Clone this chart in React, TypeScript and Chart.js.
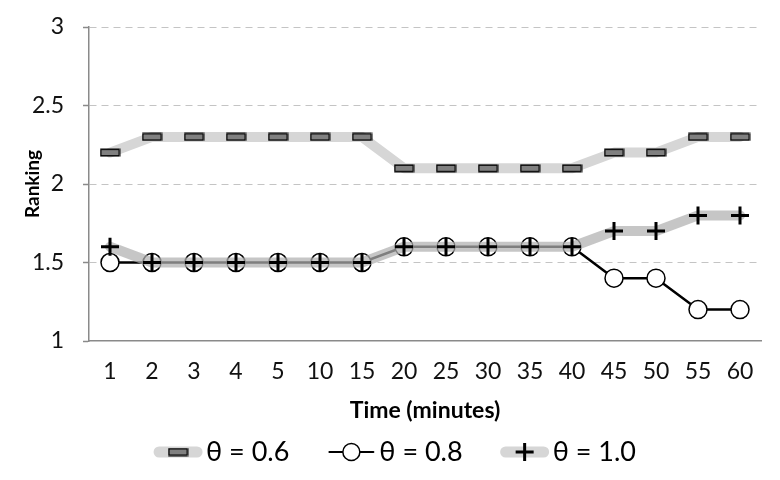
import React, { useEffect, useRef } from "react";
import { Chart, registerables } from "chart.js";

Chart.register(...registerables);

const categories = ["1", "2", "3", "4", "5", "10", "15", "20", "25", "30", "35", "40", "45", "50", "55", "60"];
const theta06 = [2.2, 2.3, 2.3, 2.3, 2.3, 2.3, 2.3, 2.1, 2.1, 2.1, 2.1, 2.1, 2.2, 2.2, 2.3, 2.3];
const theta08 = [1.5, 1.5, 1.5, 1.5, 1.5, 1.5, 1.5, 1.6, 1.6, 1.6, 1.6, 1.6, 1.4, 1.4, 1.2, 1.2];
const theta10 = [1.6, 1.5, 1.5, 1.5, 1.5, 1.5, 1.5, 1.6, 1.6, 1.6, 1.6, 1.6, 1.7, 1.7, 1.8, 1.8];
const seriesLabels = ["θ = 0.6", "θ = 0.8", "θ = 1.0"];
const yMin = 1;
const yMax = 3;
const yStep = 0.5;
const xTitle = "Time (minutes)";
const yTitle = "Ranking";

const FONT = "Lato, 'DejaVu Sans', sans-serif";
const BAND = "#d6d6d6";
const BAND_ALPHA = "rgba(176,176,176,0.72)";
const AXIS = "#8a8a8a";

function makeRectMarker(): HTMLCanvasElement {
  const c = document.createElement("canvas");
  c.width = 21;
  c.height = 9;
  const g = c.getContext("2d")!;
  g.fillStyle = "#808080";
  g.fillRect(1, 1, 19, 7);
  g.strokeStyle = "#000";
  g.lineWidth = 1.5;
  g.strokeRect(1.25, 1.25, 18.5, 6.5);
  return c;
}

const legendPlugin = {
  id: "customLegend",
  afterDraw(chart: any, _args: any, opts: any) {
    const ctx: CanvasRenderingContext2D = chart.ctx;
    const marker: HTMLCanvasElement = opts.marker;
    const y = 452;
    const sampleW = 48;
    const gapText = 4;
    const gapItem = 38;
    ctx.save();
    ctx.font = "27px " + FONT;
    const widths = seriesLabels.map((l) => ctx.measureText(l).width);
    const total = widths.reduce((a, b) => a + b, 0) + seriesLabels.length * (sampleW + gapText) + gapItem * (seriesLabels.length - 1);
    let x = 395 - total / 2;
    seriesLabels.forEach((label, i) => {
      const cx = x + sampleW / 2;
      ctx.lineCap = "round";
      if (i === 1) {
        ctx.strokeStyle = "#000";
        ctx.lineWidth = 2;
        ctx.beginPath();
        ctx.moveTo(x + 2, y);
        ctx.lineTo(x + sampleW - 2, y);
        ctx.stroke();
        ctx.beginPath();
        ctx.arc(cx, y, 8.5, 0, Math.PI * 2);
        ctx.fillStyle = "#fff";
        ctx.fill();
        ctx.lineWidth = 1.5;
        ctx.stroke();
      } else {
        ctx.strokeStyle = BAND;
        ctx.lineWidth = 11;
        ctx.beginPath();
        ctx.moveTo(x + 5, y);
        ctx.lineTo(x + sampleW - 5, y);
        ctx.stroke();
        if (i === 0) {
          ctx.drawImage(marker, cx - marker.width / 2, y - marker.height / 2);
        } else {
          ctx.strokeStyle = "#000";
          ctx.lineWidth = 3;
          ctx.lineCap = "butt";
          ctx.beginPath();
          ctx.moveTo(cx - 9, y);
          ctx.lineTo(cx + 9, y);
          ctx.moveTo(cx, y - 9);
          ctx.lineTo(cx, y + 9);
          ctx.stroke();
        }
      }
      x += sampleW + gapText;
      ctx.fillStyle = "#000";
      ctx.textBaseline = "middle";
      ctx.textAlign = "left";
      ctx.fillText(label, x, y);
      x += widths[i] + gapItem;
    });
    ctx.restore();
  },
};

export default function App() {
  const ref = useRef<HTMLCanvasElement>(null);
  useEffect(() => {
    if (!ref.current) return;
    const marker = makeRectMarker();
    const chart = new Chart(ref.current, {
      type: "line",
      data: {
        labels: categories,
        datasets: [
          {
            label: seriesLabels[0],
            data: theta06,
            order: 3,
            borderColor: BAND,
            borderWidth: 10,
            borderCapStyle: "round",
            borderJoinStyle: "round",
            pointStyle: marker as any,
            pointRadius: 5,
            tension: 0,
          },
          {
            label: seriesLabels[1],
            data: theta08,
            order: 2,
            borderColor: "#000",
            borderWidth: 2.5,
            pointStyle: "circle",
            pointRadius: 9,
            pointBackgroundColor: "#fff",
            pointBorderColor: "#000",
            pointBorderWidth: 1.5,
            tension: 0,
          },
          {
            label: seriesLabels[2],
            data: theta10,
            order: 1,
            borderColor: BAND_ALPHA,
            borderWidth: 10,
            borderCapStyle: "round",
            borderJoinStyle: "round",
            pointStyle: "cross",
            pointRadius: 9,
            pointBorderColor: "#000",
            pointBorderWidth: 3,
            tension: 0,
          },
        ],
      },
      options: {
        animation: false,
        responsive: true,
        maintainAspectRatio: false,
        layout: { padding: { left: 0, right: 19, top: 27, bottom: 0 } },
        plugins: {
          legend: { display: false },
          tooltip: { enabled: false },
          customLegend: { marker },
        } as any,
        scales: {
          x: {
            type: "category",
            offset: true,
            grid: { display: false, drawTicks: false },
            border: { color: AXIS, width: 1.5 },
            ticks: {
              color: "#111",
              font: { family: FONT, size: 23 },
              padding: 17,
              maxRotation: 0,
              autoSkip: false,
            },
            title: {
              display: true,
              text: xTitle,
              color: "#000",
              font: { family: FONT, size: 23, weight: "bold" },
              padding: { top: 0, bottom: 56 },
            },
            afterFit: (s: any) => {
              s.height = 139;
            },
          },
          y: {
            min: yMin,
            max: yMax,
            grid: {
              color: (c: any) => (c.tick && c.tick.value === yMin ? "rgba(0,0,0,0)" : "#c4c4c4"),
              lineWidth: 1,
              drawTicks: true,
              tickLength: 6,
              tickColor: AXIS,
              tickWidth: 1.5,
              tickBorderDash: [],
            } as any,
            border: { color: AXIS, width: 1.5, dash: [7, 5] },
            ticks: {
              stepSize: yStep,
              color: "#111",
              font: { family: FONT, size: 23 },
              padding: 19,
              callback: (v: any) => String(v),
            },
            title: {
              display: true,
              text: yTitle,
              color: "#000",
              font: { family: FONT, size: 19, weight: "bold" },
              padding: { top: 21, bottom: 0 },
            },
            afterFit: (s: any) => {
              s.width = 89;
              s.paddingTop = 12;
              s.paddingBottom = 12;
            },
          },
        },
      },
      plugins: [legendPlugin],
    });
    return () => chart.destroy();
  }, []);
  return (
    <div style={{ position: "absolute", left: 0, top: 0, width: 780, height: 480, background: "#fff" }}>
      <canvas ref={ref} />
    </div>
  );
}
